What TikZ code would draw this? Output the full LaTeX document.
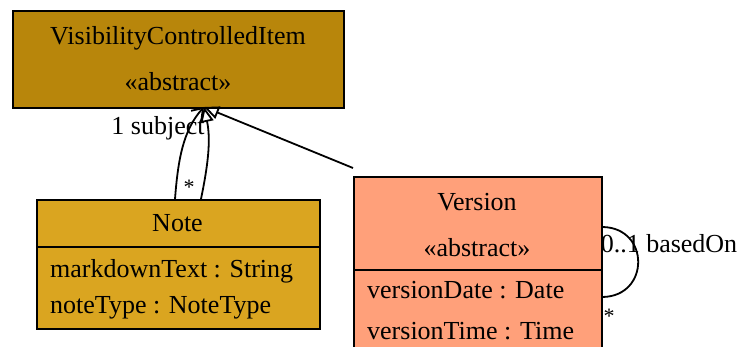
\documentclass[tikz,border=0pt]{standalone}
\usepackage{fontspec}
\setmainfont{Liberation Serif}
\usetikzlibrary{arrows.meta}
\definecolor{vcifill}{HTML}{B8860B}
\definecolor{notefill}{HTML}{DAA520}
\definecolor{versionfill}{HTML}{FFA07A}
\tikzset{
  classbox/.style={draw=black, line width=1.8pt, inner sep=0pt, anchor=north west},
  txt/.style={inner sep=0pt, anchor=base, font=\fontsize{26}{30}\selectfont},
  attr/.style={txt, anchor=base west},
  conn/.style={draw=black, line width=1.8pt},
  inherit/.style={conn, -{Triangle[open, length=15pt, width=13pt, line width=1.8pt]}},
  assoc/.style={conn, -{Straight Barb[length=10pt, width=14pt, line width=1.8pt]}},
  mult/.style={inner sep=0pt, anchor=base, font=\fontsize{22}{26}\selectfont},
}
\begin{document}
\begin{tikzpicture}[x=1pt, y=-1pt]
  \useasboundingbox (0,0) rectangle (740,347);
  \fill[white] (0,0) rectangle (740,347);
  \clip (0,0) rectangle (740,347);

  % VisibilityControlledItem
  \node[classbox, fill=vcifill, minimum width=331pt, minimum height=97pt] (vci) at (12,10) {};
  \node[txt] (vciname) at (178,45) {VisibilityControlledItem};
  \node[txt] (vcist) at (178,91) {«abstract»};

  % Note
  \node[classbox, fill=notefill, minimum width=283pt, minimum height=129pt] (note) at (36,199) {};
  \draw[line width=1.8pt] (36,247) -- (319,247);
  \node[txt] (notename) at (177.5,232) {Note};
  \node[attr] (notea1) at (50,278) {markdownText : String};
  \node[attr] (notea2) at (50,314) {noteType : NoteType};

  % Version
  \node[classbox, fill=versionfill, minimum width=248pt, minimum height=190pt] (version) at (353,176) {};
  \draw[line width=1.8pt] (353,270) -- (601,270);
  \node[txt] (versionname) at (477,210.5) {Version};
  \node[txt] (versionst) at (477,257) {«abstract»};
  \node[attr] (versiona1) at (367,299) {versionDate : Date};
  \node[attr] (versiona2) at (367,340) {versionTime : Time};

  % connectors
  \coordinate (tip) at (204,107);
  \path[inherit] ([yshift=8pt]version.north west) -- (tip);
  \path[assoc] ([xshift=139pt]note.north west) .. controls (178,160) and (183,130) .. (tip);
  \path[inherit] ([xshift=165pt]note.north west) .. controls (208,165) and (211,140) .. (tip);
  \path[conn] ([yshift=-51pt]version.north east) .. controls (650,228) and (650,296) .. ([yshift=-121pt]version.north east);

  % multiplicities and role names
  \node[txt] (lblsubject) at (158,135) {1 subject};
  \node[mult] (lblmany) at (189,195) {*};
  \node[txt] (lblbased) at (669,253) {0..1 basedOn};
  \node[mult] (lblself) at (609,324) {*};
\end{tikzpicture}
\end{document}
